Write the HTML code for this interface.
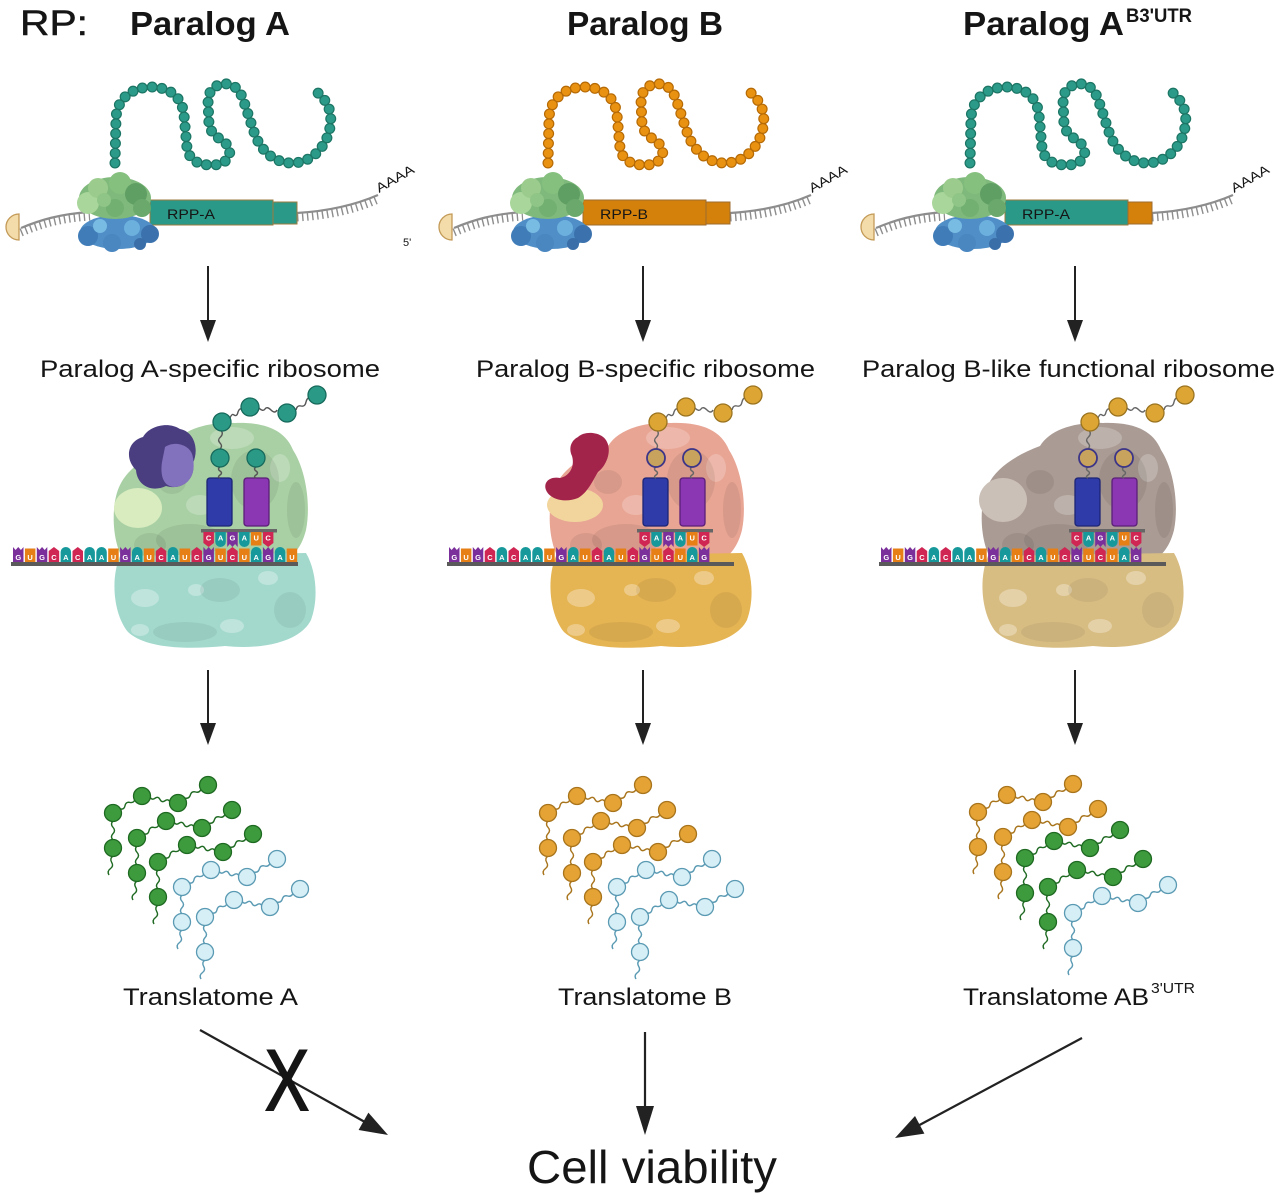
<!DOCTYPE html>
<html><head><meta charset="utf-8">
<style>
html,body{margin:0;padding:0;background:#fff;}
svg{display:block;}
text{font-family:"Liberation Sans",sans-serif;fill:#151515;}
.cl{font-size:7.5px;font-weight:bold;fill:#fff;text-anchor:middle;}
</style></head><body>
<svg width="1280" height="1201" viewBox="0 0 1280 1201" xmlns="http://www.w3.org/2000/svg" xmlns:xlink="http://www.w3.org/1999/xlink">
<defs>
 <path id="chainP" fill="none" d="M 115,163 L 116,118 C 117,100 130,88 150,87 C 170,87 182,97 184,115 L 187,148 C 189,160 198,165 212,165 C 225,165 232,157 229,148 C 226,140 212,138 209,125 L 208,100 C 209,88 218,83 228,84 C 238,86 242,95 245,105 L 255,135 C 262,152 275,163 292,163 C 308,163 322,152 328,135 C 333,120 332,105 318,93"/>
 <g id="topT">
  <g fill="none" stroke="#8d8d8d">
   <path d="M 21,228 C 40,220 60,214 90,212" stroke-width="2.2"/>
   <path d="M 21,228 C 40,220 60,214 90,212" transform="translate(0,4.5)" stroke-width="8" stroke-dasharray="1.4 3.6"/>
   <path d="M 297,213 C 330,211 355,205 378,195" stroke-width="2.2"/>
   <path d="M 297,213 C 330,211 355,205 378,195" transform="translate(0,4.5)" stroke-width="8" stroke-dasharray="1.4 3.6"/>
  </g>
  <path d="M 19,214 A 13 13 0 0 0 19,240 Z" fill="#f3dcaa" stroke="#c39a57" stroke-width="1.3"/>
 </g>
 <g id="topRibo">
  <ellipse cx="118" cy="232" rx="38" ry="17" fill="#4f8ec6"/>
  <circle cx="88" cy="236" r="10" fill="#3f7cb8"/>
  <circle cx="150" cy="234" r="9" fill="#3b72ad"/>
  <circle cx="112" cy="243" r="9" fill="#4a86c0"/>
  <circle cx="132" cy="228" r="8" fill="#6cb0de"/>
  <circle cx="100" cy="226" r="7" fill="#78bbe3"/>
  <circle cx="140" cy="244" r="6" fill="#3a6ea8"/>
  <ellipse cx="115" cy="198" rx="36" ry="21" fill="#7fb97b"/>
  <circle cx="88" cy="203" r="11" fill="#a9d69a"/>
  <circle cx="98" cy="188" r="10" fill="#9bcc8e"/>
  <circle cx="120" cy="183" r="11" fill="#86c07f"/>
  <circle cx="136" cy="194" r="11" fill="#5f9f63"/>
  <circle cx="142" cy="208" r="9" fill="#6aa96b"/>
  <circle cx="115" cy="208" r="9" fill="#72b071"/>
  <circle cx="104" cy="200" r="7" fill="#8fc586"/>
 </g>
 <g id="lg">
  <path d="M 125,562 C 112,545 110,505 120,485 C 128,468 148,455 172,446 C 182,430 205,422 235,423 C 265,422 285,430 293,450 C 306,470 311,505 306,530 C 301,550 290,562 270,567 Z"/>
  <g fill="#fff" fill-opacity=".22">
   <ellipse cx="232" cy="438" rx="22" ry="11"/>
   <ellipse cx="280" cy="468" rx="10" ry="14"/>
   <ellipse cx="200" cy="505" rx="14" ry="10"/>
  </g>
  <g fill="#000" fill-opacity=".07">
   <ellipse cx="255" cy="480" rx="24" ry="30"/>
   <ellipse cx="190" cy="540" rx="34" ry="16"/>
   <ellipse cx="296" cy="510" rx="9" ry="28"/>
   <ellipse cx="172" cy="482" rx="14" ry="12"/>
   <ellipse cx="150" cy="545" rx="16" ry="12"/>
  </g>
 </g>
 <g id="sm">
  <path d="M 120,556 C 110,580 114,615 128,632 C 145,648 185,650 225,646 C 262,650 300,642 311,620 C 319,598 316,570 306,553 Z"/>
  <g fill="#fff" fill-opacity=".3">
   <ellipse cx="145" cy="598" rx="14" ry="9"/>
   <ellipse cx="268" cy="578" rx="10" ry="7"/>
   <ellipse cx="232" cy="626" rx="12" ry="7"/>
   <ellipse cx="140" cy="630" rx="9" ry="6"/>
   <ellipse cx="196" cy="590" rx="8" ry="6"/>
  </g>
  <g fill="#000" fill-opacity=".06">
   <ellipse cx="185" cy="632" rx="32" ry="10"/>
   <ellipse cx="290" cy="610" rx="16" ry="18"/>
   <ellipse cx="220" cy="590" rx="20" ry="12"/>
  </g>
 </g>
 <g id="cG"><path d="M0,0 L2.6,3 L5.25,0 L7.9,3 L10.5,0 V15 H0 Z" fill="#7b2f9b"/><text class="cl" x="5.25" y="13">G</text></g>
 <g id="cU"><path d="M0,1.5 H10.5 V15 H0 Z" fill="#e67f16"/><text class="cl" x="5.25" y="13">U</text></g>
 <g id="cC"><path d="M0,4 L5.25,0 L10.5,4 V15 H0 Z" fill="#cf2653"/><text class="cl" x="5.25" y="13">C</text></g>
 <g id="cA"><path d="M0,5 A5.25,5 0 0 1 10.5,5 V15 H0 Z" fill="#17999c"/><text class="cl" x="5.25" y="13">A</text></g>
 <g id="iC"><path d="M0,0 H10.5 V11 L5.25,15 L0,11 Z" fill="#cf2653"/><text class="cl" x="5.25" y="8.5">C</text></g>
 <g id="iA"><path d="M0,0 H10.5 V10 A5.25,5 0 0 1 0,10 Z" fill="#17999c"/><text class="cl" x="5.25" y="8.5">A</text></g>
 <g id="iG"><path d="M0,0 H10.5 V15 L7.9,12 L5.25,15 L2.6,12 L0,15 Z" fill="#7b2f9b"/><text class="cl" x="5.25" y="8.5">G</text></g>
 <g id="iU"><path d="M0,0 H10.5 V13.5 H0 Z" fill="#e67f16"/><text class="cl" x="5.25" y="8.5">U</text></g>
 <g id="strip">
  <rect x="207" y="478" width="25" height="48" rx="3" fill="#2f3ba8" stroke="#1d2575" stroke-width="1.3"/>
  <rect x="244" y="478" width="25" height="48" rx="3" fill="#8b37b3" stroke="#5b1f78" stroke-width="1.3"/>
  <rect x="11" y="562" width="287" height="4" fill="#5a5a5a"/>
  <use xlink:href="#cG" x="13" y="547"/>
  <use xlink:href="#cU" x="24.9" y="547"/>
  <use xlink:href="#cG" x="36.8" y="547"/>
  <use xlink:href="#cC" x="48.7" y="547"/>
  <use xlink:href="#cA" x="60.6" y="547"/>
  <use xlink:href="#cC" x="72.5" y="547"/>
  <use xlink:href="#cA" x="84.4" y="547"/>
  <use xlink:href="#cA" x="96.3" y="547"/>
  <use xlink:href="#cU" x="108.2" y="547"/>
  <use xlink:href="#cG" x="120.1" y="547"/>
  <use xlink:href="#cA" x="132" y="547"/>
  <use xlink:href="#cU" x="143.9" y="547"/>
  <use xlink:href="#cC" x="155.8" y="547"/>
  <use xlink:href="#cA" x="167.7" y="547"/>
  <use xlink:href="#cU" x="179.6" y="547"/>
  <use xlink:href="#cC" x="191.5" y="547"/>
  <use xlink:href="#cG" x="203.4" y="547"/>
  <use xlink:href="#cU" x="215.3" y="547"/>
  <use xlink:href="#cC" x="227.2" y="547"/>
  <use xlink:href="#cU" x="239.1" y="547"/>
  <use xlink:href="#cA" x="251" y="547"/>
  <use xlink:href="#cG" x="262.9" y="547"/>
  <rect x="201" y="529" width="76" height="3.5" fill="#666"/>
  <use xlink:href="#iC" x="203.4" y="532"/>
  <use xlink:href="#iA" x="215.3" y="532"/>
  <use xlink:href="#iG" x="227.2" y="532"/>
  <use xlink:href="#iA" x="239.1" y="532"/>
  <use xlink:href="#iU" x="251" y="532"/>
  <use xlink:href="#iC" x="262.9" y="532"/>
 </g>
 <g id="pep" fill="none" stroke-width="1.4">
  <path d="M220,467 q-3,2 0,4 q3,2 0,4 q-3,2 0,3"/>
  <path d="M256,467 q-3,2 0,4 q3,2 0,4 q-3,2 0,3"/>
  <path d="M220,449 q3,-3 0,-6 q-3,-3 0.5,-6 q3,-3 1,-6"/>
  <path d="M230,418 q2,-5 4,-3 q3,2 4,-3 q2,-5 4,-2"/>
  <path d="M259,408 q4,4 6,1 q2,-3 6,1 q4,4 6,0"/>
  <path d="M296,410 q1,-5 5,-4 q4,1 5,-4 q1,-4 3,-4"/>
 </g>
 <g id="tc">
  <g fill="none" stroke-width="1.4">
   <path d="M7,-4 q4.2,0.8 5,-3.3 q0.8,-4.2 5,-3.3 q4.2,0.8 5,-3.4"/>
   <path d="M37,-16 q1.8,3.5 5,1.25 q3.2,-2.3 5,1.25 q1.8,3.5 5,1.25 q3.2,-2.3 5,1.25"/>
   <path d="M72,-15 q4.1,1.1 5.33,-3 q1.2,-4.1 5.33,-3 q4.1,1.1 5.33,-3"/>
   <path d="M0,8 q-3,3.17 0,6.33 q3,3.17 0,6.33 q-3,3.17 0,6.33"/>
   <path d="M0,43 q-3.6,2.6 -1.33,6.33 q2.3,3.8 -1.33,6.33 q-3.6,2.6 -1.33,6.33"/>
  </g>
  <g stroke-width="1.3">
   <circle cx="0" cy="0" r="8.5"/>
   <circle cx="29" cy="-17" r="8.5"/>
   <circle cx="65" cy="-10" r="8.5"/>
   <circle cx="95" cy="-28" r="8.5"/>
   <circle cx="0" cy="35" r="8.5"/>
  </g>
 </g>
</defs>

<!-- Header -->
<text x="20" y="35" font-size="35" textLength="68" lengthAdjust="spacingAndGlyphs" stroke="#151515" stroke-width="0.5">RP:</text>
<text x="130" y="35" font-size="33" font-weight="bold" textLength="160" lengthAdjust="spacingAndGlyphs">Paralog A</text>
<text x="567" y="35" font-size="33" font-weight="bold" textLength="156" lengthAdjust="spacingAndGlyphs">Paralog B</text>
<text x="963" y="35" font-size="33" font-weight="bold" textLength="161" lengthAdjust="spacingAndGlyphs">Paralog A</text>
<text x="1126" y="22" font-size="19" font-weight="bold" textLength="66" lengthAdjust="spacingAndGlyphs">B3'UTR</text>

<!-- Top panel A -->
<use xlink:href="#topT"/>
<rect x="150" y="200" width="123" height="25" fill="#2b9987" stroke="#9e7b3f" stroke-width="1"/>
<rect x="273" y="202" width="24" height="22" fill="#2b9987" stroke="#9e7b3f" stroke-width="1"/>
<text x="167" y="219" font-size="14" textLength="48" lengthAdjust="spacingAndGlyphs">RPP-A</text>
<use xlink:href="#chainP" stroke="#1c7565" stroke-width="11" stroke-dasharray="0 9.8" stroke-linecap="round"/>
<use xlink:href="#chainP" stroke="#2b9a88" stroke-width="8.6" stroke-dasharray="0 9.8" stroke-linecap="round"/>
<use xlink:href="#topRibo"/>
<text x="379" y="193" font-size="13" textLength="42" lengthAdjust="spacingAndGlyphs" transform="rotate(-30 379 193)">AAAA</text>

<!-- Top panel B -->
<g transform="translate(433,0)">
 <use xlink:href="#topT"/>
 <rect x="150" y="200" width="123" height="25" fill="#d3810b" stroke="#9e6b2f" stroke-width="1"/>
 <rect x="273" y="202" width="24" height="22" fill="#d3810b" stroke="#9e6b2f" stroke-width="1"/>
 <text x="167" y="219" font-size="14" textLength="48" lengthAdjust="spacingAndGlyphs">RPP-B</text>
 <use xlink:href="#chainP" stroke="#b66a05" stroke-width="11" stroke-dasharray="0 9.8" stroke-linecap="round"/>
 <use xlink:href="#chainP" stroke="#e99212" stroke-width="8.6" stroke-dasharray="0 9.8" stroke-linecap="round"/>
 <use xlink:href="#topRibo"/>
 <text x="379" y="193" font-size="13" textLength="42" lengthAdjust="spacingAndGlyphs" transform="rotate(-30 379 193)">AAAA</text>
</g>
<text x="403" y="246" font-size="11">5'</text>

<!-- Top panel C -->
<g transform="translate(855,0)">
 <use xlink:href="#topT"/>
 <rect x="150" y="200" width="123" height="25" fill="#2b9987" stroke="#9e7b3f" stroke-width="1"/>
 <rect x="273" y="202" width="24" height="22" fill="#d3810b" stroke="#9e6b2f" stroke-width="1"/>
 <text x="167" y="219" font-size="14" textLength="48" lengthAdjust="spacingAndGlyphs">RPP-A</text>
 <use xlink:href="#chainP" stroke="#1c7565" stroke-width="11" stroke-dasharray="0 9.8" stroke-linecap="round"/>
 <use xlink:href="#chainP" stroke="#2b9a88" stroke-width="8.6" stroke-dasharray="0 9.8" stroke-linecap="round"/>
 <use xlink:href="#topRibo"/>
 <text x="379" y="193" font-size="13" textLength="42" lengthAdjust="spacingAndGlyphs" transform="rotate(-30 379 193)">AAAA</text>
</g>

<!-- Row arrows -->
<g stroke="#222" stroke-width="2">
 <line x1="208" y1="266" x2="208" y2="322"/>
 <line x1="643" y1="266" x2="643" y2="322"/>
 <line x1="1075" y1="266" x2="1075" y2="322"/>
 <line x1="208" y1="670" x2="208" y2="725"/>
 <line x1="643" y1="670" x2="643" y2="725"/>
 <line x1="1075" y1="670" x2="1075" y2="725"/>
</g>
<g fill="#222">
 <polygon points="200,320 216,320 208,342"/>
 <polygon points="635,320 651,320 643,342"/>
 <polygon points="1067,320 1083,320 1075,342"/>
 <polygon points="200,723 216,723 208,745"/>
 <polygon points="635,723 651,723 643,745"/>
 <polygon points="1067,723 1083,723 1075,745"/>
</g>

<!-- Row 2 labels -->
<text x="40" y="377" font-size="24.5" textLength="340" lengthAdjust="spacingAndGlyphs">Paralog A-specific ribosome</text>
<text x="476" y="377" font-size="24.5" textLength="339" lengthAdjust="spacingAndGlyphs">Paralog B-specific ribosome</text>
<text x="862" y="377" font-size="24.5" textLength="413" lengthAdjust="spacingAndGlyphs">Paralog B-like functional ribosome</text>

<!-- Ribosome A -->
<use xlink:href="#lg" fill="#a9d0a4"/>
<ellipse cx="138" cy="508" rx="24" ry="20" fill="#d8ecbf"/>
<use xlink:href="#sm" fill="#a3d9cd"/>
<path d="M 136,470 C 124,458 128,441 143,437 C 149,426 168,421 180,429 C 195,432 199,450 193,463 C 196,479 182,491 166,486 C 151,493 137,485 136,470 Z" fill="#4a3d80"/>
<path d="M 165,447 C 175,440 192,445 193,458 C 196,472 190,486 175,487 C 163,487 160,475 162,462 Z" fill="#8877c2" opacity=".9"/>
<use xlink:href="#strip"/>
<use xlink:href="#cA" x="274.8" y="547"/>
<use xlink:href="#cU" x="286.7" y="547"/>
<use xlink:href="#pep" stroke="#555"/>
<g fill="#2a9a86" stroke="#176a5c" stroke-width="1.3">
 <circle cx="220" cy="458" r="9"/><circle cx="256" cy="458" r="9"/>
 <circle cx="222" cy="422" r="9"/><circle cx="250" cy="407" r="9"/>
 <circle cx="287" cy="413" r="9"/><circle cx="317" cy="395" r="9"/>
</g>

<!-- Ribosome B -->
<g transform="translate(436,0)">
 <use xlink:href="#lg" fill="#e8a594"/>
 <use xlink:href="#sm" fill="#e5b453"/>
 <ellipse cx="139" cy="505" rx="28" ry="17" fill="#f2d59d"/>
 <path d="M 142,437 C 149,430 167,432 171,442 C 176,452 170,466 162,472 C 156,482 152,492 142,498 C 130,503 114,500 110,490 C 107,482 114,476 124,478 C 134,476 139,466 136,456 C 132,447 136,440 142,437 Z" fill="#a3244a"/>
 <use xlink:href="#strip"/>
 <use xlink:href="#pep" stroke="#666"/>
 <g fill="#c8a35e" stroke="#3c3588" stroke-width="1.8">
  <circle cx="220" cy="458" r="9"/><circle cx="256" cy="458" r="9"/>
 </g>
 <g fill="#dda534" stroke="#9a7420" stroke-width="1.3">
  <circle cx="222" cy="422" r="9"/><circle cx="250" cy="407" r="9"/>
  <circle cx="287" cy="413" r="9"/><circle cx="317" cy="395" r="9"/>
 </g>
</g>

<!-- Ribosome C -->
<g transform="translate(868,0)">
 <use xlink:href="#lg" fill="#aa9b94"/>
 <ellipse cx="135" cy="500" rx="24" ry="22" fill="#cbc0b8"/>
 <use xlink:href="#sm" fill="#d8bd83"/>
 <use xlink:href="#strip"/>
 <use xlink:href="#pep" stroke="#666"/>
 <g fill="#c8a35e" stroke="#3c3588" stroke-width="1.8">
  <circle cx="220" cy="458" r="9"/><circle cx="256" cy="458" r="9"/>
 </g>
 <g fill="#dda534" stroke="#9a7420" stroke-width="1.3">
  <circle cx="222" cy="422" r="9"/><circle cx="250" cy="407" r="9"/>
  <circle cx="287" cy="413" r="9"/><circle cx="317" cy="395" r="9"/>
 </g>
</g>

<!-- Translatome A -->
<use xlink:href="#tc" x="113" y="813" fill="#3d9b3d" stroke="#1f6a22"/>
<use xlink:href="#tc" x="137" y="838" fill="#3d9b3d" stroke="#1f6a22"/>
<use xlink:href="#tc" x="158" y="862" fill="#3d9b3d" stroke="#1f6a22"/>
<use xlink:href="#tc" x="182" y="887" fill="#d6eef6" stroke="#5a9ab3"/>
<use xlink:href="#tc" x="205" y="917" fill="#d6eef6" stroke="#5a9ab3"/>

<!-- Translatome B -->
<use xlink:href="#tc" x="548" y="813" fill="#e4a334" stroke="#a8741c"/>
<use xlink:href="#tc" x="572" y="838" fill="#e4a334" stroke="#a8741c"/>
<use xlink:href="#tc" x="593" y="862" fill="#e4a334" stroke="#a8741c"/>
<use xlink:href="#tc" x="617" y="887" fill="#d6eef6" stroke="#5a9ab3"/>
<use xlink:href="#tc" x="640" y="917" fill="#d6eef6" stroke="#5a9ab3"/>

<!-- Translatome AB -->
<use xlink:href="#tc" x="978" y="812" fill="#e4a334" stroke="#a8741c"/>
<use xlink:href="#tc" x="1003" y="837" fill="#e4a334" stroke="#a8741c"/>
<use xlink:href="#tc" x="1025" y="858" fill="#3d9b3d" stroke="#1f6a22"/>
<use xlink:href="#tc" x="1048" y="887" fill="#3d9b3d" stroke="#1f6a22"/>
<use xlink:href="#tc" x="1073" y="913" fill="#d6eef6" stroke="#5a9ab3"/>

<!-- Translatome labels -->
<text x="123" y="1005" font-size="24" textLength="175" lengthAdjust="spacingAndGlyphs">Translatome A</text>
<text x="558" y="1005" font-size="24" textLength="174" lengthAdjust="spacingAndGlyphs">Translatome B</text>
<text x="963" y="1005" font-size="24" textLength="186" lengthAdjust="spacingAndGlyphs">Translatome AB</text>
<text x="1151" y="993" font-size="15" textLength="44" lengthAdjust="spacingAndGlyphs">3'UTR</text>

<!-- Bottom arrows -->
<g stroke="#222" stroke-width="2.2">
 <line x1="200" y1="1030" x2="364" y2="1121.5"/>
 <line x1="645" y1="1032" x2="645" y2="1108"/>
 <line x1="1082" y1="1038" x2="919.5" y2="1125"/>
</g>
<g fill="#222">
 <polygon points="388,1135 358.6,1130 368.4,1112.6"/>
 <polygon points="636,1106 654,1106 645,1135"/>
 <polygon points="895,1138 915,1116 924.4,1133.6"/>
</g>
<text x="265" y="1110" font-size="86" textLength="44" lengthAdjust="spacingAndGlyphs" stroke="#151515" stroke-width="2">X</text>
<text x="527" y="1183" font-size="46" textLength="250" lengthAdjust="spacingAndGlyphs">Cell viability</text>
</svg>
</body></html>
